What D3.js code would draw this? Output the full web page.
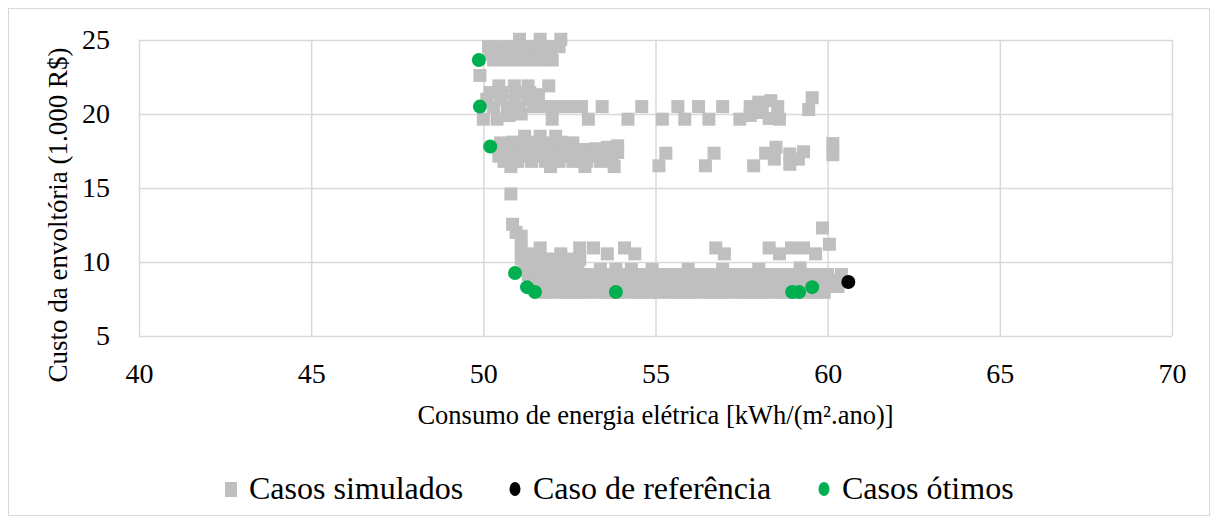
<!DOCTYPE html>
<html>
<head>
<meta charset="utf-8">
<script src="https://cdn.jsdelivr.net/npm/d3@7"></script>
<style>
  body { margin: 0; background: #fff; }
  svg text { font-family: "Liberation Serif", "Times New Roman", serif; fill: #000; }
</style>
</head>
<body>
<svg id="chart" width="1218" height="524"></svg>
<script>
// Casos simulados [consumo, custo]
const simulados = [
  // faixa 24-25
  [51.05,25.05],[51.65,25.05],[52.25,25.05],
  [50.15,24.55],[50.5,24.55],[50.85,24.55],[51.2,24.55],[51.55,24.55],[51.9,24.55],[52.2,24.55],
  [50.2,24.05],[50.55,24.0],[50.9,24.05],[51.25,24.0],[51.6,24.05],[51.95,24.0],
  [50.3,23.65],[50.65,23.65],[51.0,23.65],[51.35,23.65],[51.7,23.65],[52.0,23.65],
  [49.9,22.6],
  // faixa 20
  [50.45,21.9],[50.9,21.9],[51.3,21.9],[51.9,21.9],
  [50.2,21.45],[50.55,21.45],[50.95,21.45],[51.35,21.45],[51.6,21.3],
  [50.1,21.0],[50.5,21.0],[50.9,20.95],[51.3,21.0],
  [50.3,20.5],[50.7,20.5],[51.05,20.5],[51.45,20.5],[51.8,20.5],[52.15,20.5],[52.5,20.5],[52.85,20.5],
  [53.45,20.5],[54.6,20.5],[55.65,20.5],[56.25,20.5],[56.95,20.5],[57.75,20.5],
  [50.0,19.65],[50.4,19.65],[50.75,19.9],[51.1,20.0],[52.0,19.65],[53.05,19.65],[54.2,19.65],
  [55.2,19.65],[55.85,19.65],[56.55,19.65],[57.45,19.65],[57.75,19.9],[58.1,20.1],
  [58.0,20.8],[58.35,20.9],[58.55,20.5],[58.3,19.7],[58.6,19.65],[59.55,21.1],[59.45,20.3],
  // faixa 17
  [51.2,18.5],[51.65,18.5],[52.1,18.5],
  [50.5,18.05],[50.85,18.1],[51.2,18.05],[51.55,18.1],[51.9,18.05],[52.25,18.1],[52.6,18.05],
  [50.45,17.6],[50.8,17.6],[51.15,17.6],[51.5,17.6],[51.85,17.6],[52.2,17.6],[52.55,17.6],[52.9,17.6],
  [53.25,17.65],[53.6,17.75],[53.9,17.85],[53.9,17.4],
  [50.45,17.15],[50.8,17.15],[51.15,17.15],[51.5,17.15],[51.85,17.15],[52.2,17.15],[52.55,17.15],
  [52.9,17.15],[53.25,17.15],[53.6,17.2],
  [50.6,16.8],[51.0,16.8],[51.4,16.8],[51.8,16.8],[52.2,16.8],[52.6,16.8],[53.0,16.8],[53.4,16.8],[53.75,16.8],
  [50.8,16.45],[51.95,16.45],[52.95,16.45],[53.8,16.45],
  [55.3,17.35],[55.1,16.5],[56.7,17.35],[56.45,16.5],[58.2,17.35],[57.85,16.5],[58.5,17.75],[58.45,16.95],
  [58.9,17.3],[58.9,16.6],[59.3,17.45],[59.15,16.95],[60.15,18.0],[60.15,17.25],
  // isolados
  [50.8,14.6],[50.85,12.55],[50.95,12.0],[51.1,11.75],[59.85,12.3],[60.05,11.2],
  // faixa 10-11
  [51.1,10.95],[51.65,10.95],[52.8,10.95],[53.2,10.95],[54.1,10.95],[56.75,10.95],[58.3,10.95],[58.95,10.95],[59.3,10.95],
  [51.35,10.55],[52.25,10.55],[53.6,10.55],[54.4,10.55],[57.0,10.55],[58.6,10.55],[59.65,10.55],
  [51.1,10.2],[51.45,10.2],[51.8,10.2],[52.15,10.2],[52.5,10.2],[52.8,10.2],
  // faixa 8-9.5
  [51.2,9.5],[51.5,9.5],[51.8,9.5],[52.1,9.5],[52.4,9.5],[52.75,9.5],[53.4,9.5],[53.85,9.5],[54.3,9.5],
  [54.9,9.5],[55.95,9.5],[56.95,9.5],[58.0,9.5],[59.2,9.6],
  [51.3,9.15],[51.6,9.15],[51.9,9.15],[52.2,9.15],[52.5,9.15],[52.8,9.15],[53.1,9.15],[53.4,9.15],[53.7,9.15],
  [54.0,9.15],[54.3,9.15],[54.6,9.15],[54.9,9.15],[55.2,9.15],[55.5,9.15],[55.8,9.15],[56.1,9.15],[56.4,9.15],
  [56.7,9.15],[57.0,9.15],[57.3,9.15],[57.6,9.15],[57.9,9.15],[58.2,9.15],[58.5,9.15],[58.8,9.15],[59.1,9.15],
  [59.4,9.15],[59.7,9.15],[60.0,9.15],[60.4,9.15],
  [51.7,8.75],[52.0,8.75],[52.3,8.75],[52.6,8.75],[52.9,8.75],[53.2,8.75],[53.5,8.75],[53.8,8.75],[54.1,8.75],
  [54.4,8.75],[54.7,8.75],[55.0,8.75],[55.3,8.75],[55.6,8.75],[55.9,8.75],[56.2,8.75],[56.5,8.75],[56.8,8.75],
  [57.1,8.75],[57.4,8.75],[57.7,8.75],[58.0,8.75],[58.3,8.75],[58.6,8.75],[58.9,8.75],[59.2,8.75],[59.5,8.75],
  [59.8,8.75],[60.1,8.75],[60.35,8.75],
  [51.6,8.35],[51.95,8.35],[52.25,8.35],[52.55,8.35],[52.85,8.35],[53.15,8.35],[53.45,8.35],[53.75,8.35],
  [54.05,8.35],[54.35,8.35],[54.65,8.35],[54.95,8.35],[55.25,8.35],[55.55,8.35],[55.85,8.35],[56.15,8.35],
  [56.45,8.35],[56.75,8.35],[57.05,8.35],[57.35,8.35],[57.65,8.35],[57.95,8.35],[58.25,8.35],[58.55,8.35],
  [58.85,8.35],[59.15,8.35],[59.45,8.35],[59.75,8.35],[60.05,8.35],[60.3,8.35],
  [51.8,7.95],[52.1,7.95],[52.4,7.95],[52.7,7.95],[53.0,7.95],[53.3,7.95],[53.6,7.95],[53.9,7.95],[54.2,7.95],
  [54.5,7.95],[54.8,7.95],[55.1,7.95],[55.4,7.95],[55.7,7.95],[56.0,7.95],[56.3,7.95],[56.6,7.95],[56.9,7.95],
  [57.2,7.95],[57.5,7.95],[57.8,7.95],[58.1,7.95],[58.4,7.95],[58.7,7.95],[59.0,7.95],[59.3,7.95],[59.6,7.95],
  [59.9,7.95]
];
const referencia = [[60.6, 8.65]];
const otimos = [
  [49.87,23.65],[49.9,20.5],[50.2,17.8],[50.92,9.25],[51.27,8.3],[51.5,7.97],
  [53.85,7.97],[58.97,7.97],[59.17,7.97],[59.55,8.3]
];
const xTicks = [40, 45, 50, 55, 60, 65, 70];
const yTicks = [5, 10, 15, 20, 25];
const legendLabels = ['Casos simulados', 'Caso de referência', 'Casos ótimos'];

const svg = d3.select('#chart');
const plotLeft = 139, plotRight = 1172, plotTop = 40, plotBottom = 336;
const grid = '#d9d9d9';
const gray = '#bfbfbf', green = '#00b050';

// frame
svg.append('rect')
  .attr('x', 8.5).attr('y', 8.5)
  .attr('width', 1201).attr('height', 507)
  .attr('fill', '#fff').attr('stroke', grid).attr('stroke-width', 1);

const x = d3.scaleLinear().domain([40, 70]).range([plotLeft, plotRight]);
const y = d3.scaleLinear().domain([5, 25]).range([plotBottom, plotTop]);

// axes + grid
const gy = svg.append('g')
  .attr('transform', `translate(${plotLeft},0)`)
  .call(d3.axisLeft(y).tickValues(yTicks).tickSize(-(plotRight - plotLeft)).tickPadding(29));
const gx = svg.append('g')
  .attr('transform', `translate(0,${plotBottom})`)
  .call(d3.axisBottom(x).tickValues(xTicks).tickSize(-(plotBottom - plotTop)).tickPadding(27));
[gx, gy].forEach(g => {
  g.select('.domain').remove();
  g.selectAll('line').attr('stroke', grid).attr('stroke-width', 1.5);
  g.selectAll('text').attr('font-size', 28).attr('fill', '#000')
    .style('font-family', '"Liberation Serif", serif');
});

// marks
const sq = 13;
svg.append('g').selectAll('rect')
  .data(simulados).join('rect')
  .attr('x', d => x(d[0]) - sq / 2)
  .attr('y', d => y(d[1]) - sq / 2)
  .attr('width', sq).attr('height', sq)
  .attr('fill', gray);

svg.append('g').selectAll('circle')
  .data(referencia).join('circle')
  .attr('cx', d => x(d[0])).attr('cy', d => y(d[1]))
  .attr('r', 7).attr('fill', '#000');

svg.append('g').selectAll('circle')
  .data(otimos).join('circle')
  .attr('cx', d => x(d[0])).attr('cy', d => y(d[1]))
  .attr('r', 7).attr('fill', green);

// axis titles
svg.append('text')
  .attr('x', (plotLeft + plotRight) / 2).attr('y', 424)
  .attr('text-anchor', 'middle').attr('font-size', 26.5)
  .text('Consumo de energia elétrica [kWh/(m².ano)]');
svg.append('text')
  .attr('transform', 'translate(67,215) rotate(-90)')
  .attr('text-anchor', 'middle').attr('font-size', 27)
  .text('Custo da envoltória (1.000 R$)');

// legend
const leg = svg.append('g');
const legX = [231, 515, 824];
leg.append('rect').attr('x', legX[0] - 6).attr('y', 482).attr('width', 12).attr('height', 15).attr('fill', gray);
leg.append('ellipse').attr('cx', legX[1]).attr('cy', 489).attr('rx', 5.5).attr('ry', 7).attr('fill', '#000');
leg.append('ellipse').attr('cx', legX[2]).attr('cy', 489).attr('rx', 5.5).attr('ry', 7).attr('fill', green);
legendLabels.forEach((t, i) => {
  leg.append('text')
    .attr('x', legX[i] + 18).attr('y', 499)
    .attr('font-size', 32)
    .text(t);
});
</script>
</body>
</html>
